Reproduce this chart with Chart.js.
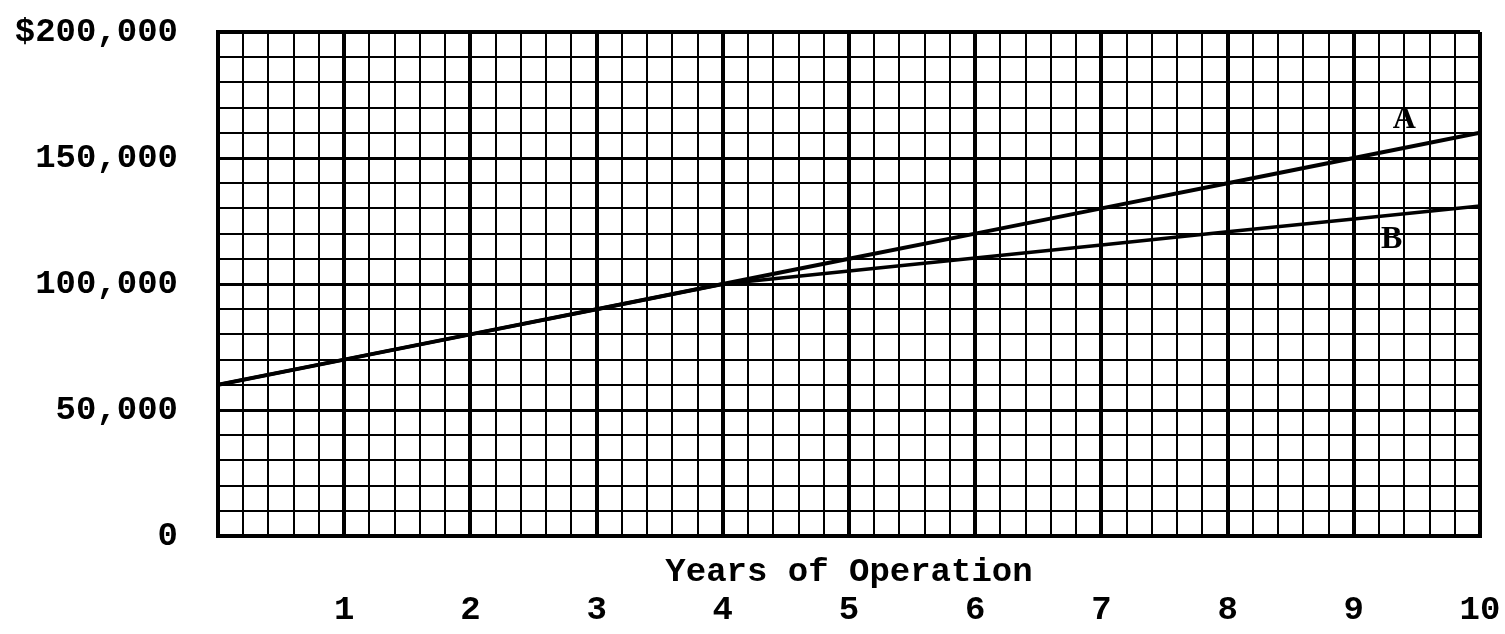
<!DOCTYPE html>
<html>
<head>
<meta charset="utf-8">
<script src="https://cdn.jsdelivr.net/npm/chart.js@4"></script>
<style>
  html, body { margin: 0; padding: 0; background: #fff; }
  #wrap { width: 1505px; height: 634px; }
</style>
</head>
<body>
<div id="wrap"><canvas id="c" width="1505" height="634"></canvas></div>
<script>
// ---- data ----
const years = [0, 1, 2, 3, 4, 5, 6, 7, 8, 9, 10];
const seriesA = [60000, 70000, 80000, 90000, 100000, 110000, 120000, 130000, 140000, 150000, 160000];
const seriesB = [60000, 70000, 80000, 90000, 100000, 105200, 110300, 115500, 120700, 125800, 131000];
const xTickLabels = ['1', '2', '3', '4', '5', '6', '7', '8', '9', '10'];
const yTickLabels = { 0: '0', 50000: '50,000', 100000: '100,000', 150000: '150,000', 200000: '$200,000' };
const xTitle = 'Years of Operation';
const seriesNames = ['A', 'B'];
const seriesLabelPos = [[9.4, 165000], [9.3, 117500]];

const FONT = "'Liberation Mono', 'Courier New', monospace";

const isInt = v => Math.abs(v - Math.round(v)) < 1e-6;

const annot = {
  id: 'annot',
  afterDatasetsDraw(chart) {
    const ctx = chart.ctx;
    const xs = chart.scales.x, ys = chart.scales.y;
    ctx.save();
    ctx.fillStyle = '#000';
    ctx.font = "bold 34px " + FONT;
    ctx.textAlign = 'center';
    ctx.textBaseline = 'middle';
    ctx.fillText(xTitle, xs.getPixelForValue(5), 572);
    ctx.font = "bold 32px 'Liberation Serif', serif";
    seriesNames.forEach((n, i) => {
      const p = seriesLabelPos[i];
      ctx.fillText(n, xs.getPixelForValue(p[0]), ys.getPixelForValue(p[1]));
    });
    ctx.restore();
  }
};

const zeroPad = s => { s.paddingLeft = 0; s.paddingRight = 0; s.paddingTop = 0; s.paddingBottom = 0; };

new Chart(document.getElementById('c'), {
  type: 'line',
  data: {
    datasets: [
      { label: 'A', data: years.map((x, i) => ({ x, y: seriesA[i] })), borderColor: '#000', borderWidth: 4, pointRadius: 0, tension: 0, fill: false },
      { label: 'B', data: years.map((x, i) => ({ x, y: seriesB[i] })), borderColor: '#000', borderWidth: 3.5, pointRadius: 0, tension: 0, fill: false }
    ]
  },
  options: {
    responsive: false,
    animation: false,
    devicePixelRatio: 1,
    layout: { padding: { left: 0, right: 25, top: 32, bottom: 0 } },
    plugins: { legend: { display: false }, tooltip: { enabled: false }, title: { display: false } },
    scales: {
      x: {
        type: 'linear', min: 0, max: 10,
        afterFit: s => { s.height = 98; zeroPad(s); },
        border: { display: true, color: '#000', width: 4 },
        grid: {
          drawTicks: false, color: '#000',
          lineWidth: c => {
            const v = c.tick.value;
            return isInt(v) ? 4 : 2;
          }
        },
        ticks: {
          stepSize: 0.2, autoSkip: false, maxRotation: 0, padding: 54,
          color: '#000', font: { family: FONT, size: 34, weight: 'bold' },
          callback: v => (isInt(v) && Math.round(v) > 0) ? xTickLabels[Math.round(v) - 1] : ''
        }
      },
      y: {
        type: 'linear', min: 0, max: 200000,
        afterFit: s => { s.width = 218; zeroPad(s); },
        border: { display: true, color: '#000', width: 4 },
        grid: {
          drawTicks: false, color: '#000',
          lineWidth: c => {
            const v = c.tick.value;
            if (v === 0 || v === 200000) return 4;
            return (v % 50000 === 0) ? 3 : 2;
          }
        },
        ticks: {
          stepSize: 10000, autoSkip: false, padding: 40,
          color: '#000', font: { family: FONT, size: 34, weight: 'bold' },
          callback: v => (yTickLabels[v] !== undefined ? yTickLabels[v] : '')
        }
      }
    }
  },
  plugins: [annot]
});
</script>
</body>
</html>
